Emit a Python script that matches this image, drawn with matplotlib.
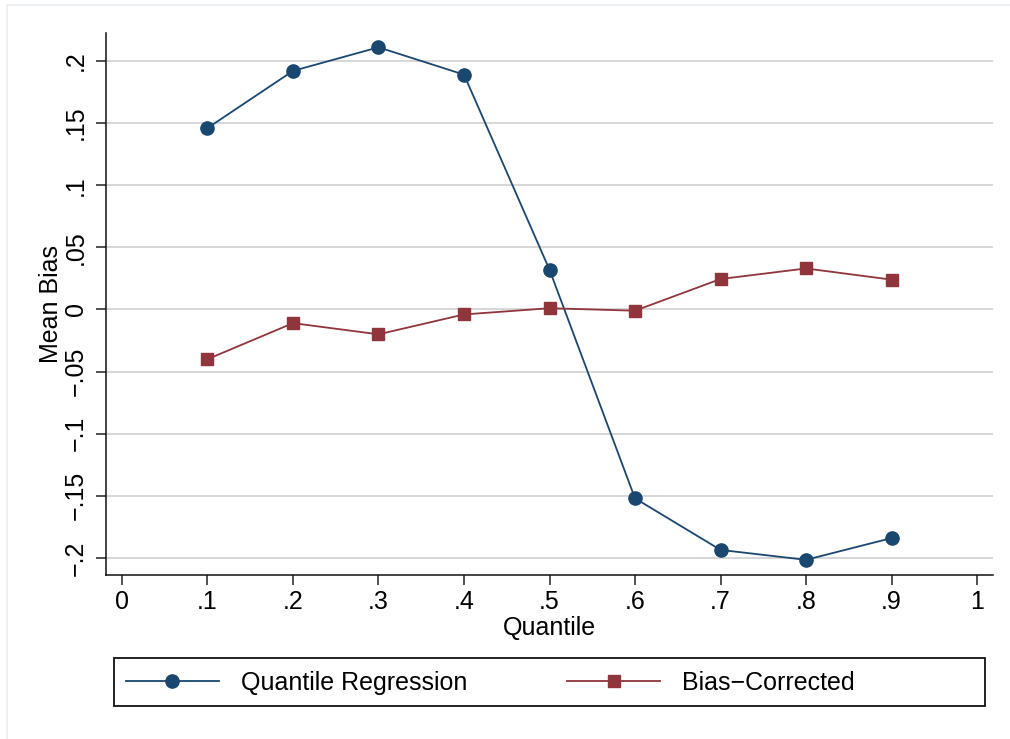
import matplotlib.pyplot as plt
from matplotlib.patches import Rectangle

# ----------------------------------------------------------------------
# Data
# ----------------------------------------------------------------------
quantiles = [0.1, 0.2, 0.3, 0.4, 0.5, 0.6, 0.7, 0.8, 0.9]
qr_bias = [0.146, 0.192, 0.211, 0.189, 0.032, -0.152, -0.1935, -0.2015, -0.184]
bc_bias = [-0.040, -0.011, -0.020, -0.004, 0.001, -0.001, 0.0245, 0.033, 0.024]

x_ticks = [0, 0.1, 0.2, 0.3, 0.4, 0.5, 0.6, 0.7, 0.8, 0.9, 1.0]
x_labels = ["0", ".1", ".2", ".3", ".4", ".5", ".6", ".7", ".8", ".9", "1"]
y_ticks = [0.2, 0.15, 0.1, 0.05, 0.0, -0.05, -0.1, -0.15, -0.2]
y_labels = [".2", ".15", ".1", ".05", "0", "\u2212.05", "\u2212.1", "\u2212.15", "\u2212.2"]

NAVY = "#1a476f"
MAROON = "#90353b"
GRID = "#d4d4d4"

plt.rcParams["font.family"] = ["Liberation Sans", "DejaVu Sans"]
plt.rcParams["font.size"] = 18

W, H = 1010, 739
fig = plt.figure(figsize=(W / 100, H / 100), dpi=100)
fig.patch.set_facecolor("white")

# faint page border seen in the reference
fig.patches.append(Rectangle((7 / W, -0.1), 1.2, 1 - 5 / H + 0.1,
                             transform=fig.transFigure, fill=False,
                             edgecolor="#e6edf1", linewidth=1.2))

ax = fig.add_axes([106 / W, 1 - 575 / H, 887 / W, 542 / H])

ax.plot(quantiles, qr_bias, color=NAVY, linewidth=1.3, marker="o",
        markersize=9.5, label="Quantile Regression", zorder=3)
ax.plot(quantiles, bc_bias, color=MAROON, linewidth=1.3, marker="s",
        markersize=8.5, label="Bias\u2212Corrected", zorder=3)

ax.set_xlim(-0.0187, 1.0187)
ax.set_ylim(-0.2137, 0.2225)

ax.set_xticks(x_ticks)
ax.set_xticklabels(x_labels)
ax.set_yticks(y_ticks)
ax.set_yticklabels(y_labels, rotation=90, va="center")

ax.grid(axis="y", color=GRID, linewidth=1.3)
ax.set_axisbelow(True)
ax.tick_params(direction="out", length=7, width=1.1, color="#222222", pad=4)
ax.tick_params(axis="y", pad=6)

for side in ["top", "right"]:
    ax.spines[side].set_visible(False)
for side in ["left", "bottom"]:
    ax.spines[side].set_linewidth(1.1)
    ax.spines[side].set_color("#111111")

ax.set_xlabel("Quantile", labelpad=1)
ax.set_ylabel("Mean Bias", labelpad=1)

# legend box drawn separately, Stata-like wide frame
fig.patches.append(Rectangle((114 / W, 1 - 706 / H), 871 / W, 48 / H,
                             transform=fig.transFigure, fill=False,
                             edgecolor="#111111", linewidth=1.3))
leg = fig.legend(loc="center left", ncol=2, frameon=False,
                 bbox_to_anchor=(126 / W, 1 - 683 / H),
                 handlelength=3.7, handletextpad=0.9, borderpad=0,
                 borderaxespad=0, columnspacing=4.0)

fig.savefig("out.png", dpi=100)
